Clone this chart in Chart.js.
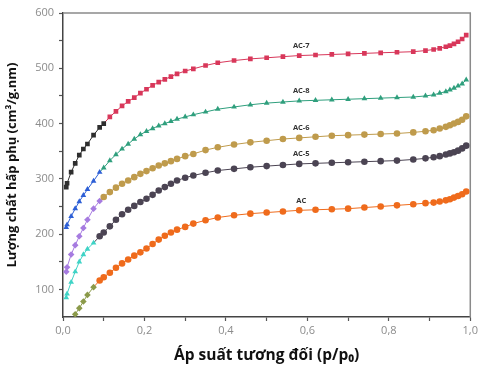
<!DOCTYPE html>
<html>
<head>
<meta charset="utf-8">
<script src="https://cdn.jsdelivr.net/npm/chart.js@4.4.1/dist/chart.umd.min.js"></script>
<style>
  html, body { margin: 0; padding: 0; background: #fff; }
  #wrap { width: 481px; height: 369px; }
</style>
</head>
<body>
<div id="wrap"><canvas id="chart"></canvas></div>
<script>
// relative pressure p/p0 (shared by all isotherms)
const pressure = [0.008, 0.01, 0.02, 0.03, 0.04, 0.05, 0.06, 0.075, 0.09, 0.10,
    0.115, 0.13, 0.145, 0.16, 0.175, 0.19, 0.205, 0.22, 0.235, 0.25,
    0.265, 0.28, 0.30, 0.32, 0.35, 0.38, 0.42, 0.46, 0.50, 0.54,
    0.58, 0.62, 0.66, 0.70, 0.74, 0.78, 0.82, 0.86, 0.89, 0.91,
    0.925, 0.94, 0.95, 0.96, 0.97, 0.98, 0.99];

// adsorbed amount, cm3/g
const ac7 = [285, 292, 312, 328, 343, 354, 363, 379, 393, 400,
    412, 422, 432, 440, 447, 455, 462, 469, 475, 480,
    485, 490, 495, 499, 505, 510, 514, 517, 519, 521,
    523, 524, 525, 526, 527, 528, 529, 530, 532, 534,
    536, 539, 541, 544, 548, 553, 560];
const ac8 = [212, 217, 232, 246, 259, 270, 281, 296, 312, 320,
    333, 344, 354, 363, 372, 380, 386, 391, 396, 400,
    404, 408, 412, 416, 421, 426, 430, 434, 437, 439,
    441, 442, 443, 444, 445, 446, 447, 448, 450, 452,
    455, 458, 461, 464, 468, 472, 479];
const ac6 = [132, 140, 163, 180, 196, 211, 226, 246, 260, 267,
    276, 284, 291, 297, 303, 309, 314, 319, 324, 328,
    332, 336, 341, 345, 352, 357, 362, 366, 369, 372,
    374, 376, 378, 379, 380, 381, 382, 384, 386, 388,
    391, 394, 397, 400, 403, 407, 413];
const ac5 = [85, 92, 113, 132, 150, 163, 173, 184, 196, 203,
    214, 226, 236, 244, 251, 258, 264, 271, 279, 285,
    291, 297, 302, 306, 311, 315, 318, 321, 323, 325,
    327, 328, 329, 330, 331, 332, 333, 335, 337, 339,
    341, 344, 346, 348, 351, 355, 360];
const ac = [null, null, null, 55, 66, 78, 90, 104, 116, 122,
    130, 139, 147, 154, 161, 167, 174, 182, 190, 197,
    203, 208, 213, 219, 225, 230, 234, 237, 239, 241,
    243, 244, 245, 246, 248, 250, 252, 254, 256, 257,
    259, 261, 263, 266, 269, 272, 277];

const xTicks = [0, 0.2, 0.4, 0.6, 0.8, 1.0];
const xMinor = [0.1, 0.3, 0.5, 0.7, 0.9];
const yTicks = [100, 200, 300, 400, 500, 600];
const yMinor = [150, 250, 350, 450, 550];

const SERIES = [
    { name: "AC-7", values: ac7, color: "#d8375a", low: "#2e2e2e", lowUntil: 0.10, shape: "rect", lowShape: "rect" },
    { name: "AC-8", values: ac8, color: "#2f9f7d", low: "#2d5fd6", lowUntil: 0.09, shape: "triangle", lowShape: "triangle" },
    { name: "AC-6", values: ac6, color: "#bf9b4c", low: "#a67be0", lowUntil: 0.09, shape: "circle", lowShape: "rectRot" },
    { name: "AC-5", values: ac5, color: "#4b4453", low: "#3ed3c6", lowUntil: 0.075, shape: "circle", lowShape: "triangle" },
    { name: "AC", values: ac, color: "#ef6b1c", low: "#8b9a4a", lowUntil: 0.075, shape: "circle", lowShape: "rectRot" },
];

const FONT = "'Open Sans', 'DejaVu Sans', sans-serif";

const datasets = SERIES.map((s) => ({
    label: s.name,
    data: pressure.map((p, i) => ({ x: p, y: s.values[i] })),
    borderColor: s.color,
    borderWidth: 1,
    segment: {
        borderColor: (c) => (pressure[c.p1DataIndex] <= s.lowUntil ? s.low : s.color),
    },
    pointBackgroundColor: (c) => (pressure[c.dataIndex] <= s.lowUntil ? s.low : s.color),
    pointStyle: (c) => (pressure[c.dataIndex] <= s.lowUntil ? s.lowShape : s.shape),
    pointBorderWidth: 0,
    pointRadius: 3.3,
    tension: 0,
    spanGaps: false,
}));

// series names written just above the curves, near p/p0 = 0.58
const seriesLabels = {
    id: "seriesLabels",
    afterDatasetsDraw(chart) {
        const { ctx } = chart;
        const idx = pressure.indexOf(0.58);
        ctx.save();
        ctx.font = "bold 7.5px " + FONT;
        ctx.fillStyle = "#333";
        ctx.textAlign = "center";
        ctx.textBaseline = "bottom";
        chart.data.datasets.forEach((ds, i) => {
            const pt = chart.getDatasetMeta(i).data[idx];
            ctx.fillText(ds.label, pt.x + 2, pt.y - 6);
        });
        ctx.restore();
    },
};

// top and right frame lines
const frame = {
    id: "frame",
    beforeDatasetsDraw(chart) {
        const { ctx, chartArea: a } = chart;
        ctx.save();
        ctx.strokeStyle = "#8a8a8a";
        ctx.lineWidth = 1.5;
        ctx.beginPath();
        ctx.moveTo(a.left, a.top);
        ctx.lineTo(a.right, a.top);
        ctx.lineTo(a.right, a.bottom);
        ctx.stroke();
        ctx.restore();
    },
};

new Chart(document.getElementById("chart"), {
    type: "line",
    data: { datasets },
    plugins: [frame, seriesLabels],
    options: {
        responsive: true,
        maintainAspectRatio: false,
        animation: false,
        layout: { padding: { left: 0, right: 10, top: 13, bottom: 0 } },
        plugins: { legend: { display: false }, tooltip: { enabled: false } },
        scales: {
            x: {
                type: "linear",
                min: 0,
                max: 1,
                afterBuildTicks: (scale) => {
                    scale.ticks = [...xTicks, ...xMinor].sort((a, b) => a - b).map((v) => ({ value: v }));
                },
                afterFit: (scale) => { scale.height = 52; },
                ticks: {
                    color: "#8c8c8c",
                    font: { family: FONT, size: 11 },
                    padding: 3,
                    maxRotation: 0,
                    autoSkip: false,
                    callback: (v) => (xTicks.some((t) => Math.abs(t - v) < 1e-9) ? v.toFixed(1).replace(".", ",") : ""),
                },
                grid: { drawOnChartArea: false, tickLength: 4, tickColor: "#555", tickWidth: 1.2 },
                border: { color: "#444", width: 1.5 },
                title: {
                    display: true,
                    text: "Áp suất tương đối (p/p₀)",
                    color: "#111",
                    font: { family: FONT, size: 15.5, weight: "bold" },
                    padding: { top: 3 },
                },
            },
            y: {
                min: 50,
                max: 600,
                afterBuildTicks: (scale) => {
                    scale.ticks = [...yTicks, ...yMinor].sort((a, b) => a - b).map((v) => ({ value: v }));
                },
                afterFit: (scale) => { scale.width = 63; },
                ticks: {
                    color: "#8c8c8c",
                    font: { family: FONT, size: 11 },
                    padding: 5,
                    autoSkip: false,
                    callback: (v) => (yTicks.includes(v) ? String(v) : ""),
                },
                grid: { drawOnChartArea: false, tickLength: 4, tickColor: "#555", tickWidth: 1.2 },
                border: { color: "#444", width: 1.5 },
                title: {
                    display: true,
                    text: "Lượng chất hấp phụ (cm³/g.nm)",
                    color: "#111",
                    font: { family: FONT, size: 13, weight: "bold" },
                    padding: { bottom: 2 },
                },
            },
        },
    },
});
</script>
</body>
</html>
